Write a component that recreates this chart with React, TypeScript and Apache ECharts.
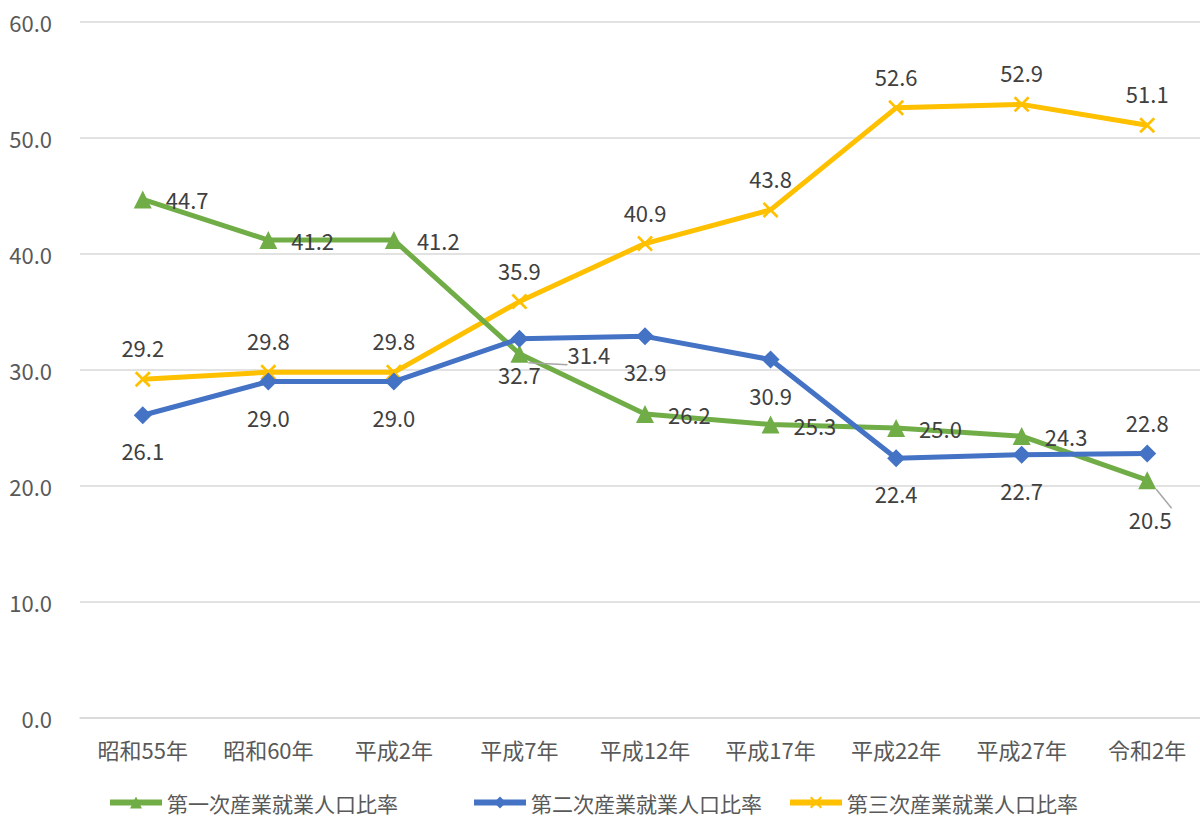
import React, { useEffect, useRef } from "react";
import * as echarts from "echarts";

const categories = ["昭和55年", "昭和60年", "平成2年", "平成7年", "平成12年", "平成17年", "平成22年", "平成27年", "令和2年"];
const primary = [44.7, 41.2, 41.2, 31.4, 26.2, 25.3, 25.0, 24.3, 20.5];
const secondary = [26.1, 29.0, 29.0, 32.7, 32.9, 30.9, 22.4, 22.7, 22.8];
const tertiary = [29.2, 29.8, 29.8, 35.9, 40.9, 43.8, 52.6, 52.9, 51.1];
const seriesNames = ["第一次産業就業人口比率", "第二次産業就業人口比率", "第三次産業就業人口比率"];

const GREEN = "#70AD47";
const BLUE = "#4472C4";
const YELLOW = "#FFC000";
const LABEL = "#404040";
const AXIS = "#595959";
const FONT = "'Noto Sans CJK JP', 'Noto Sans', sans-serif";

const XSYM = "path://M0,1.2L1.2,0L5,3.8L8.8,0L10,1.2L6.2,5L10,8.8L8.8,10L5,6.2L1.2,10L0,8.8L3.8,5Z";

export default function App() {
  const ref = useRef<HTMLDivElement>(null);
  useEffect(() => {
    const chart = echarts.init(ref.current!, null, { renderer: "svg" });
    const lbl = (pos: string, dist: number) => ({
      show: true,
      position: pos,
      distance: dist,
      color: LABEL,
      fontSize: 22,
      fontFamily: FONT,
      formatter: (p: any) => Number(p.value).toFixed(1),
    });

    const leader = { show: true, lineStyle: { color: "#a6a6a6", width: 1.5 } };
    const greenData = primary.map((v, i) => {
      if (i === 3) {
        return {
          value: v,
          label: { position: "right", distance: 39 },
          labelLine: leader,
        };
      }
      if (i === 8) {
        return {
          value: v,
          label: { position: "bottom", distance: 19, offset: [3, 0] },
          labelLine: leader,
        };
      }
      return { value: v };
    });
    const blueData = secondary.map((v, i) =>
      i === 8 ? { value: v, label: { position: "top", distance: 12 } } : { value: v }
    );

    const legendBase = {
      top: 787,
      itemWidth: 52,
      itemHeight: 15,
      itemGap: 5,
      lineStyle: { width: 6 },
      textStyle: { fontSize: 21, color: AXIS, fontFamily: FONT },
    };

    chart.setOption({
      animation: false,
      textStyle: { fontFamily: FONT },
      grid: {
        left: 80,
        width: 1130,
        top: 22,
        bottom: 100,
        containLabel: false,
        outerBoundsMode: "none",
      },
      legend: [
        { ...legendBase, left: 102, data: [seriesNames[0]] },
        { ...legendBase, left: 466, data: [seriesNames[1]] },
        { ...legendBase, left: 782, data: [seriesNames[2]] },
      ],
      xAxis: {
        type: "category",
        data: categories,
        boundaryGap: true,
        axisLine: { lineStyle: { color: "#d9d9d9", width: 1.5 } },
        axisTick: { show: false },
        axisLabel: { color: AXIS, fontSize: 22, margin: 20, fontFamily: FONT },
      },
      yAxis: {
        type: "value",
        min: 0,
        max: 60,
        interval: 10,
        axisLine: { show: false },
        axisTick: { show: false },
        axisLabel: {
          color: AXIS,
          fontSize: 22,
          margin: 28,
          fontFamily: FONT,
          formatter: (v: number) => v.toFixed(1),
        },
        splitLine: { lineStyle: { color: "#d9d9d9", width: 1.5 } },
      },
      series: [
        {
          name: seriesNames[0],
          type: "line",
          data: greenData,
          symbol: "triangle",
          symbolSize: 18,
          lineStyle: { color: GREEN, width: 5 },
          itemStyle: { color: GREEN },
          label: lbl("right", 14),
          z: 3,
        },
        {
          name: seriesNames[1],
          type: "line",
          data: blueData,
          symbol: "diamond",
          symbolSize: 18,
          lineStyle: { color: BLUE, width: 5 },
          itemStyle: { color: BLUE },
          label: lbl("bottom", 15),
          z: 4,
        },
        {
          name: seriesNames[2],
          type: "line",
          data: tertiary,
          symbol: XSYM,
          symbolSize: 16,
          lineStyle: { color: YELLOW, width: 5 },
          itemStyle: { color: YELLOW },
          label: lbl("top", 13),
          z: 2,
        },
      ],
    });
    return () => chart.dispose();
  }, []);
  return (
    <div
      ref={ref}
      style={{ position: "fixed", left: 0, top: 0, width: 1200, height: 818, background: "#fff" }}
    />
  );
}
